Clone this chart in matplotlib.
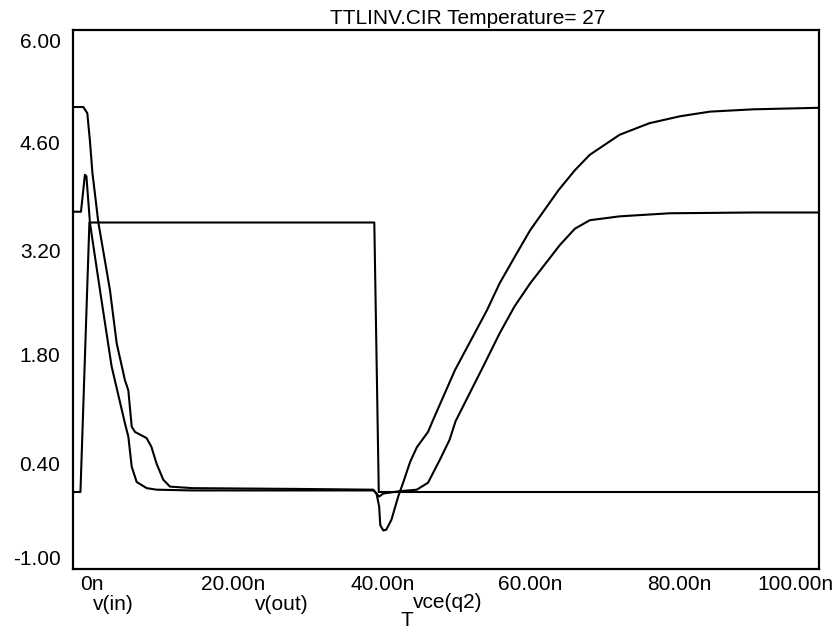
import matplotlib.pyplot as plt
import matplotlib.transforms as mtransforms

plt.rcParams['font.family'] = ['Liberation Sans', 'DejaVu Sans']

# time in ns, voltages in V
t_in = [0, 1.0, 2.2, 40.4, 41.0, 100]
v_in = [0, 0, 3.5, 3.5, 0, 0]

t_out = [0, 1.07, 1.6, 1.8, 2.28, 3.62, 5.18, 6.97, 7.42, 7.87, 8.54, 9.88, 11.2, 16, 30,
         40.3, 41.05, 41.6, 43.8, 46.1, 47.6, 49.2, 50.5, 51.3, 55.0, 57.2, 59.2, 61.3,
         65.3, 67.3, 69.3, 73.3, 80.0, 91.2, 100]
v_out = [3.64, 3.64, 4.12, 4.10, 3.49, 2.62, 1.63, 0.89, 0.72, 0.33, 0.13, 0.05, 0.03, 0.02, 0.02,
         0.02, -0.06, -0.02, 0.01, 0.03, 0.12, 0.42, 0.68, 0.92, 1.63, 2.06, 2.41, 2.71,
         3.21, 3.42, 3.53, 3.58, 3.62, 3.63, 3.63]

t_vce = [0, 1.38, 1.92, 2.28, 2.6, 3.4, 4.96, 5.86, 6.97, 7.42, 7.87, 8.31, 9.87, 10.5, 11.2,
         12.1, 13.0, 16, 30, 40.26, 40.7, 41.05, 41.2, 41.6, 42.0, 42.7, 43.6, 44.3, 45.2,
         46.1, 47.6, 48.3, 51.2, 55.5, 57.2, 59.5, 61.3, 65.1, 67.3, 69.3, 73.3, 77.3,
         81.4, 85.4, 91.2, 100]
v_vce = [5.0, 5.0, 4.92, 4.55, 4.15, 3.5, 2.62, 1.93, 1.45, 1.32, 0.85, 0.78, 0.70, 0.59, 0.37,
         0.16, 0.07, 0.05, 0.04, 0.03, -0.02, -0.19, -0.43, -0.50, -0.49, -0.36, -0.06, 0.13, 0.39,
         0.58, 0.78, 0.94, 1.58, 2.36, 2.71, 3.10, 3.40, 3.92, 4.18, 4.38, 4.64, 4.79,
         4.88, 4.94, 4.97, 4.99]

x_ticks = [0, 20, 40, 60, 80, 100]
x_labels = ['0n', '20.00n', '40.00n', '60.00n', '80.00n', '100.00n']
y_ticks = [6.0, 4.6, 3.2, 1.8, 0.4, -1.0]
y_labels = ['6.00', '4.60', '3.20', '1.80', '0.40', '-1.00']

fs = 15

fig = plt.figure(figsize=(8.38, 6.32), dpi=100)
ax = fig.add_axes([0.0871, 0.0997, 0.890, 0.8528])

for t, v in [(t_in, v_in), (t_out, v_out), (t_vce, v_vce)]:
    ax.plot(t, v, color='black', lw=1.5)

ax.set_xlim(0, 100)
ax.set_ylim(-1, 6)
for s in ax.spines.values():
    s.set_linewidth(1.6)

ax.set_xticks(x_ticks)
ax.set_xticklabels(x_labels, fontsize=fs)
ax.set_yticks(y_ticks)
ax.set_yticklabels(y_labels, fontsize=fs)
ax.tick_params(length=0)
ax.tick_params(axis='x', pad=4)
ax.tick_params(axis='y', pad=9)

# shift tick labels like the probe output does (pixels)
x_shift = [7, 11, 11, 10, 10, 15]
x_ha = ['left', 'center', 'center', 'center', 'center', 'right']
for lab, dx, ha in zip(ax.get_xticklabels(), x_shift, x_ha):
    lab.set_ha(ha)
    lab.set_transform(lab.get_transform() + mtransforms.ScaledTranslation(dx / 100, 0, fig.dpi_scale_trans))
y_shift = [-10, -5, -4.5, -1.5, -2, 11]
for lab, dy in zip(ax.get_yticklabels(), y_shift):
    lab.set_transform(lab.get_transform() + mtransforms.ScaledTranslation(0, dy / 100, fig.dpi_scale_trans))

fig.text(468 / 838, 1 - 18 / 632, 'TTLINV.CIR Temperature= 27', fontsize=fs, ha='center', va='center')
fig.text(113 / 838, 1 - 604 / 632, 'v(in)', fontsize=fs, ha='center', va='center')
fig.text(282 / 838, 1 - 604 / 632, 'v(out)', fontsize=fs, ha='center', va='center')
fig.text(448 / 838, 1 - 603 / 632, 'vce(q2)', fontsize=fs, ha='center', va='center')
fig.text(407 / 838, 1 - 621 / 632, 'T', fontsize=fs, ha='center', va='center')

fig.savefig('out.png', dpi=100)
